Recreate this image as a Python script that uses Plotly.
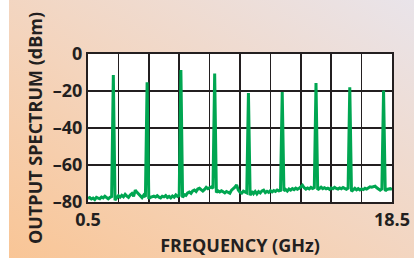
import numpy as np
import plotly.graph_objects as go
from urllib.parse import quote

# ---- data ----
freq_start_ghz = 0.5
freq_stop_ghz = 18.5
freq_step_ghz = 0.1

# noise floor (dBm), one value per 0.1 GHz from 0.5 to 18.5 GHz
noise_dbm = [
    -78.0, -77.6, -78.4, -77.9, -78.7, -77.5, -77.9, -78.2, -77.3, -77.8,
    -76.9, -77.6, -78.3, -77.5, -77.1, -77.0, -79.0, -77.8, -76.6, -77.4,
    -76.4, -77.2, -75.9, -76.8, -77.5, -76.2, -75.4, -76.9, -73.6, -74.8,
    -75.8, -76.9, -77.6, -76.3, -77.2, -77.0, -78.2, -77.5, -77.0, -76.8,
    -77.3, -76.6, -77.4, -77.8, -76.9, -77.2, -76.5, -77.6, -77.0, -77.8,
    -76.8, -77.4, -76.2, -77.0, -76.5, -76.5, -77.5, -76.0, -76.4, -75.1,
    -74.6, -75.3, -74.0, -73.5, -74.3, -73.0, -72.6, -73.4, -74.1, -73.2,
    -72.1, -72.8, -72.3, -71.9, -72.6, -72.6, -74.8, -74.0, -74.6, -73.9,
    -74.5, -75.1, -74.3, -74.8, -75.3, -73.6, -73.0, -72.0, -70.8, -73.6,
    -74.8, -75.2, -74.1, -74.6, -75.0, -75.0, -76.4, -74.2, -75.5, -74.3,
    -75.6, -74.4, -75.1, -74.0, -73.6, -74.9, -74.2, -74.8, -73.9, -74.5,
    -73.8, -74.3, -73.5, -74.0, -73.7, -73.7, -73.9, -73.2, -74.1, -73.0,
    -73.6, -72.8, -73.3, -72.5, -73.1, -72.6, -71.6, -71.0, -72.3, -73.0,
    -72.4, -72.9, -72.1, -72.7, -72.2, -72.2, -73.4, -72.6, -72.0, -72.8,
    -72.3, -72.9, -72.5, -73.2, -72.4, -72.8, -72.1, -72.7, -73.0, -72.4,
    -72.8, -72.2, -72.6, -73.1, -72.5, -72.5, -74.2, -73.5, -72.6, -73.4,
    -72.8, -73.5, -72.9, -73.3, -72.6, -73.0, -72.4, -71.8, -72.0, -71.5,
    -71.4, -72.3, -72.8, -73.6, -73.0, -73.0, -74.0, -73.2, -73.0, -72.8,
    -73.2,
]

# harmonic spurs
peak_freq_ghz = [2.0, 4.0, 6.0, 8.0, 10.0, 12.0, 14.0, 16.0, 18.0]
peak_dbm = [-11.4, -15.3, -8.7, -10.5, -21.1, -20.6, -15.7, -18.0, -19.7]

y_tick_vals = [0, -20, -40, -60, -80]
y_tick_text = ["0", "–20", "–40", "–60", "–80"]
x_grid_vals = [0.5, 2.3, 4.1, 5.9, 7.7, 9.5, 11.3, 13.1, 14.9, 16.7, 18.5]
x_tick_text = ["0.5", "", "", "", "", "", "", "", "", "", "18.5"]

# ---- build trace ----
freq = np.round(np.arange(len(noise_dbm)) * freq_step_ghz + freq_start_ghz, 3)
level = np.array(noise_dbm, dtype=float)
for f, p in zip(peak_freq_ghz, peak_dbm):
    idx = int(round((f - freq_start_ghz) / freq_step_ghz))
    level[idx] = p

W, H = 414, 258
L, R, T, B = 88, 22, 54, 56
pw, ph = W - L - R, H - T - B

svg = (
    f'<svg xmlns="http://www.w3.org/2000/svg" width="{W}" height="{H}" viewBox="0 0 {W} {H}" preserveAspectRatio="none">'
    '<defs><linearGradient id="g" x1="0" y1="1" x2="1" y2="0">'
    '<stop offset="0" stop-color="#F9C595"/>'
    '<stop offset="0.45" stop-color="#F4D4BC"/>'
    '<stop offset="1" stop-color="#E9E4EA"/>'
    '</linearGradient></defs>'
    f'<rect width="{W}" height="{H}" fill="url(#g)"/>'
    f'<rect width="9" height="{H}" fill="#FFFFFF"/>'
    f'<rect x="{L}" y="{T}" width="{pw}" height="{ph}" fill="#FFFFFF"/>'
    '</svg>'
)
bg_src = "data:image/svg+xml;charset=utf-8," + quote(svg)

ink = "#231F20"
font_family = "Open Sans, Arial, sans-serif"

fig = go.Figure()
fig.add_trace(go.Scatter(
    x=freq, y=level, mode="lines",
    line=dict(color="#00A651", width=3),
    hoverinfo="skip", showlegend=False,
))

fig.update_layout(
    width=W, height=H,
    margin=dict(l=L, r=R, t=T, b=B, pad=0),
    paper_bgcolor="#FFFFFF",
    plot_bgcolor="rgba(0,0,0,0)",
    font=dict(family=font_family, color=ink, size=18, weight="bold"),
    images=[dict(
        source=bg_src, xref="paper", yref="paper",
        x=-L / pw, y=1 + T / ph, sizex=W / pw, sizey=H / ph,
        xanchor="left", yanchor="top", sizing="stretch", layer="below",
    )],
)

fig.update_xaxes(
    range=[freq_start_ghz, freq_stop_ghz],
    tickmode="array", tickvals=x_grid_vals, ticktext=x_tick_text,
    showgrid=True, gridcolor=ink, gridwidth=1.6,
    showline=True, linecolor=ink, linewidth=2, mirror=True,
    zeroline=False, ticks="",
    tickfont=dict(size=18, weight="bold", color=ink),
    title=dict(text="FREQUENCY (GHz)", font=dict(size=18, weight="bold", color=ink), standoff=10),
    automargin=False,
)
fig.update_yaxes(
    range=[-80, 0],
    tickmode="array", tickvals=y_tick_vals, ticktext=y_tick_text,
    showgrid=True, gridcolor=ink, gridwidth=1.6,
    showline=True, linecolor=ink, linewidth=2, mirror=True,
    zeroline=False, ticks="",
    tickfont=dict(size=18, weight="bold", color=ink),
    title=dict(text="OUTPUT SPECTRUM (dBm)", font=dict(size=18, weight="bold", color=ink), standoff=6),
    automargin=False,
)

fig.write_html(
    "out.html",
    config={"displayModeBar": False, "staticPlot": True},
    post_script="document.body.style.margin='0';document.body.style.overflow='hidden';",
)
